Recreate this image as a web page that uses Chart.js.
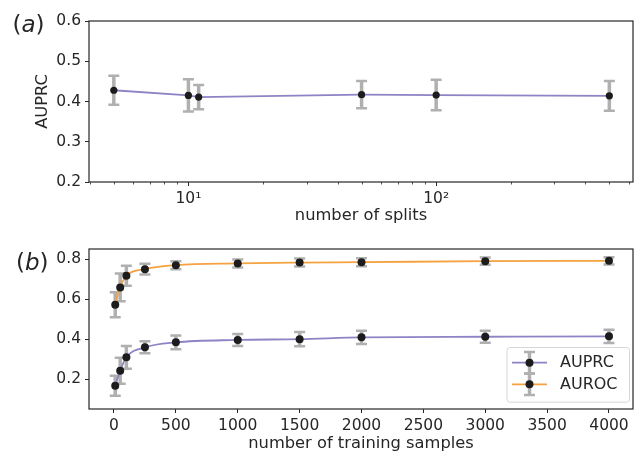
<!DOCTYPE html>
<html><head><meta charset="utf-8">
<script src="https://cdn.jsdelivr.net/npm/chart.js@4.4.0/dist/chart.umd.min.js"></script>
<style>
html,body{margin:0;padding:0;background:#fff;}
#wrap{position:relative;width:639px;height:456px;overflow:hidden;}
#c1{position:absolute;left:0;top:0;}
#c2{position:absolute;left:0;top:230px;}
</style></head><body>
<div id="wrap"><canvas id="c1" width="639" height="230"></canvas><canvas id="c2" width="639" height="226"></canvas></div>
<script>
// ---- data, panel (a) ----
const splits = [5, 10, 11, 50, 100, 500];
const auprcBySplits = [0.428, 0.415, 0.411, 0.417, 0.416, 0.414];
const auprcBySplitsErr = [0.036, 0.040, 0.030, 0.034, 0.038, 0.037];
const xTickValsA = [10, 100];
const xTickLabelsA = ['10\u00B9', '10\u00B2'];
const xMinorTicksA = [4, 5, 6, 7, 8, 9, 20, 30, 40, 50, 60, 70, 80, 90, 200, 300, 400, 500, 600];
const yTickValsA = [0.2, 0.3, 0.4, 0.5, 0.6];
const yTickLabelsA = ['0.2', '0.3', '0.4', '0.5', '0.6'];

// ---- data, panel (b) ----
const samples = [10, 50, 100, 250, 500, 1000, 1500, 2000, 3000, 4000];
const auprcBySamples = [0.168, 0.243, 0.310, 0.360, 0.385, 0.397, 0.401, 0.410, 0.413, 0.415];
const auprcBySamplesErr = [0.050, 0.065, 0.057, 0.030, 0.034, 0.030, 0.036, 0.033, 0.030, 0.033];
const aurocBySamples = [0.573, 0.660, 0.718, 0.751, 0.771, 0.780, 0.784, 0.786, 0.791, 0.793];
const aurocBySamplesErr = [0.062, 0.070, 0.050, 0.027, 0.020, 0.020, 0.020, 0.020, 0.018, 0.018];
const xTickValsB = [0, 500, 1000, 1500, 2000, 2500, 3000, 3500, 4000];
const xTickLabelsB = ['0', '500', '1000', '1500', '2000', '2500', '3000', '3500', '4000'];
const yTickValsB = [0.2, 0.4, 0.6, 0.8];
const yTickLabelsB = ['0.2', '0.4', '0.6', '0.8'];

// ---- style ----
const FONT = 'DejaVu Sans';
const TXT = '#262626';
const PURPLE = '#8c84c4';
const ORANGE = '#f5a242';
const ERRC = '#b0b0b0';
const DOT = '#1c1c1c';
const tickFont = {family: FONT, size: 15.5};
const titleFont = {family: FONT, size: 16.3, lineHeight: 1.2};

const pts = (xs, ys) => xs.map((x, i) => ({x: x, y: ys[i]}));

const errorBars = {
  id: 'errorBars',
  beforeDatasetsDraw(chart) {
    const {ctx, scales: {x, y}} = chart;
    ctx.save();
    ctx.strokeStyle = ERRC;
    ctx.lineCap = 'butt';
    chart.data.datasets.forEach(ds => {
      ds.data.forEach((p, i) => {
        const e = ds.errors[i];
        const px = x.getPixelForValue(p.x);
        const y1 = y.getPixelForValue(p.y - e), y2 = y.getPixelForValue(p.y + e);
        ctx.lineWidth = 3.5;
        ctx.beginPath(); ctx.moveTo(px, y1); ctx.lineTo(px, y2); ctx.stroke();
        ctx.lineWidth = 2.5;
        ctx.beginPath();
        ctx.moveTo(px - 5.5, y1); ctx.lineTo(px + 5.5, y1);
        ctx.moveTo(px - 5.5, y2); ctx.lineTo(px + 5.5, y2);
        ctx.stroke();
      });
    });
    ctx.restore();
  }
};

const frame = {
  id: 'frame',
  afterDatasetsDraw(chart) {
    const {ctx, chartArea: a} = chart;
    ctx.save();
    ctx.strokeStyle = TXT;
    ctx.lineWidth = 1.2;
    ctx.strokeRect(a.left, a.top, a.right - a.left, a.bottom - a.top);
    ctx.restore();
  }
};

const minorTicks = {
  id: 'minorTicks',
  afterDraw(chart) {
    const {ctx, chartArea: a, scales: {x}} = chart;
    ctx.save();
    ctx.strokeStyle = TXT;
    ctx.lineWidth = 0.8;
    xMinorTicksA.forEach(v => {
      const px = Math.round(x.getPixelForValue(v)) + 0.5;
      if (px < a.left || px > a.right) return;
      ctx.beginPath(); ctx.moveTo(px, a.bottom); ctx.lineTo(px, a.bottom + 2.5); ctx.stroke();
    });
    ctx.restore();
  }
};

function panelLabel(letter, x0, baseline) {
  return {
    id: 'panelLabel',
    afterDraw(chart) {
      const ctx = chart.ctx;
      ctx.save();
      ctx.fillStyle = TXT;
      ctx.textBaseline = 'alphabetic';
      ctx.textAlign = 'left';
      let x = x0;
      ctx.font = '23px "' + FONT + '"';
      ctx.fillText('(', x, baseline); x += ctx.measureText('(').width;
      ctx.font = 'italic 23px "' + FONT + '"';
      ctx.fillText(letter, x, baseline); x += ctx.measureText(letter).width;
      ctx.font = '23px "' + FONT + '"';
      ctx.fillText(')', x, baseline);
      ctx.restore();
    }
  };
}

const legendB = {
  id: 'legendB',
  afterDraw(chart) {
    const {ctx, chartArea: a} = chart;
    const w = 122.5, h = 54.7;
    const bx = a.right - 4 - w, by = a.bottom - 7.3 - h;
    ctx.save();
    ctx.fillStyle = 'rgba(255,255,255,0.85)';
    ctx.strokeStyle = '#d6d6d6';
    ctx.lineWidth = 1;
    ctx.beginPath();
    if (ctx.roundRect) ctx.roundRect(bx + 0.5, by + 0.5, w, h, 3); else ctx.rect(bx + 0.5, by + 0.5, w, h);
    ctx.fill(); ctx.stroke();
    chart.data.datasets.forEach((ds, i) => {
      const yy = by + 15.7 + i * 21.6;
      const x1 = bx + 5.5, x2 = bx + 40.5, xc = (x1 + x2) / 2;
      ctx.strokeStyle = ds.borderColor; ctx.lineWidth = 1.8;
      ctx.beginPath(); ctx.moveTo(x1, yy); ctx.lineTo(x2, yy); ctx.stroke();
      ctx.strokeStyle = ERRC; ctx.lineWidth = 3.5;
      ctx.beginPath(); ctx.moveTo(xc, yy - 10.8); ctx.lineTo(xc, yy + 10.8); ctx.stroke();
      ctx.lineWidth = 2.5;
      ctx.beginPath();
      ctx.moveTo(xc - 5.5, yy - 10.8); ctx.lineTo(xc + 5.5, yy - 10.8);
      ctx.moveTo(xc - 5.5, yy + 10.8); ctx.lineTo(xc + 5.5, yy + 10.8);
      ctx.stroke();
      ctx.fillStyle = DOT;
      ctx.beginPath(); ctx.arc(xc, yy, 4, 0, Math.PI * 2); ctx.fill();
      ctx.fillStyle = TXT;
      ctx.font = '16px "' + FONT + '"';
      ctx.textBaseline = 'middle';
      ctx.textAlign = 'left';
      ctx.fillText(ds.label, bx + 53.5, yy + 0.5);
    });
    ctx.restore();
  }
};

const gridOpts = {display: true, drawOnChartArea: false, drawTicks: true, tickLength: 4, tickColor: TXT, tickWidth: 1};

// ---- panel (a) ----
new Chart(document.getElementById('c1'), {
  type: 'line',
  data: {datasets: [{
    label: 'AUPRC', data: pts(splits, auprcBySplits), errors: auprcBySplitsErr,
    borderColor: PURPLE, borderWidth: 1.8, tension: 0,
    pointRadius: 3.6, pointBackgroundColor: DOT, pointBorderWidth: 0
  }]},
  options: {
    responsive: false, animation: false, events: [],
    layout: {padding: {left: 0, top: 21, right: 6, bottom: 0}},
    plugins: {legend: {display: false}, tooltip: {enabled: false}},
    scales: {
      x: {
        type: 'logarithmic', min: 3.97, max: 623,
        afterBuildTicks: s => { s.ticks = xTickValsA.map(v => ({value: v})); },
        afterFit: s => { s.height = 48; },
        ticks: {autoSkip: false, maxRotation: 0, padding: 4, color: TXT, font: tickFont, callback: (v, i) => xTickLabelsA[i]},
        grid: gridOpts, border: {display: false},
        title: {display: true, text: 'number of splits', color: TXT, font: titleFont, padding: {top: 0, bottom: 4}}
      },
      y: {
        type: 'linear', min: 0.2, max: 0.6,
        afterBuildTicks: s => { s.ticks = yTickValsA.map(v => ({value: v})); },
        afterFit: s => { s.width = 89; },
        ticks: {autoSkip: false, padding: 4, color: TXT, font: tickFont, callback: (v, i) => yTickLabelsA[i]},
        grid: gridOpts, border: {display: false},
        title: {display: true, text: 'AUPRC', color: TXT, font: titleFont, padding: {top: 33, bottom: 0}}
      }
    }
  },
  plugins: [errorBars, frame, minorTicks, panelLabel('a', 12.5, 32)]
});

// ---- panel (b) ----
new Chart(document.getElementById('c2'), {
  type: 'line',
  data: {datasets: [
    {label: 'AUPRC', data: pts(samples, auprcBySamples), errors: auprcBySamplesErr,
     borderColor: PURPLE, borderWidth: 1.8, cubicInterpolationMode: 'monotone',
     pointRadius: 4, pointBackgroundColor: DOT, pointBorderWidth: 0},
    {label: 'AUROC', data: pts(samples, aurocBySamples), errors: aurocBySamplesErr,
     borderColor: ORANGE, borderWidth: 1.8, cubicInterpolationMode: 'monotone',
     pointRadius: 4, pointBackgroundColor: DOT, pointBorderWidth: 0}
  ]},
  options: {
    responsive: false, animation: false, events: [],
    layout: {padding: {left: 0, top: 19, right: 6, bottom: 0}},
    plugins: {legend: {display: false}, tooltip: {enabled: false}},
    scales: {
      x: {
        type: 'linear', min: -202, max: 4194,
        afterBuildTicks: s => { s.ticks = xTickValsB.map(v => ({value: v})); },
        afterFit: s => { s.height = 47; },
        ticks: {autoSkip: false, maxRotation: 0, padding: 4, color: TXT, font: tickFont, callback: (v, i) => xTickLabelsB[i]},
        grid: gridOpts, border: {display: false},
        title: {display: true, text: 'number of training samples', color: TXT, font: titleFont, padding: {top: 0, bottom: 2}}
      },
      y: {
        type: 'linear', min: 0.0515, max: 0.852,
        afterBuildTicks: s => { s.ticks = yTickValsB.map(v => ({value: v})); },
        afterFit: s => { s.width = 89; },
        ticks: {autoSkip: false, padding: 4, color: TXT, font: tickFont, callback: (v, i) => yTickLabelsB[i]},
        grid: gridOpts, border: {display: false}
      }
    }
  },
  plugins: [errorBars, frame, legendB, panelLabel('b', 16, 39.5)]
});
</script>
</body></html>
